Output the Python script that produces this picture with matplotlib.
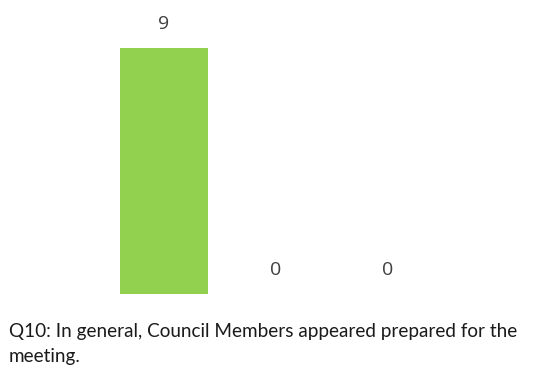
import matplotlib.pyplot as plt
from matplotlib.transforms import ScaledTranslation

categories = ['Agree', 'Neutral', 'Disagree']
counts = [9, 0, 0]
caption = ['Q10: In general, Council Members appeared prepared for the',
           'meeting.']

fig = plt.figure(figsize=(5.44, 3.73), dpi=100)
ax = fig.add_axes([108 / 544, 79 / 373, 336 / 544, 246 / 373])

x = range(len(categories))
bars = ax.bar(x, counts, width=0.785, color='#92D050')

# value labels sit a fixed distance above each bar
lift = ax.transData + ScaledTranslation(0, 19 / 100, fig.dpi_scale_trans)
for b, v in zip(bars, counts):
    ax.text(b.get_x() + b.get_width() / 2, v, str(v), ha='center', va='baseline',
            fontsize=14, color='#404040', family='Open Sans', clip_on=False,
            transform=lift)

ax.set_xlim(-0.5, 2.5)
ax.set_ylim(0, 9)
ax.axis('off')

# question text under the chart, one line at a time
for i, line in enumerate(caption):
    fig.text(9 / 544, 1 - (337 + 25 * i) / 373, line, ha='left', va='baseline',
             fontsize=13.6, family='Lato', color='#1a1a1a')

fig.savefig('out.png', dpi=100)
